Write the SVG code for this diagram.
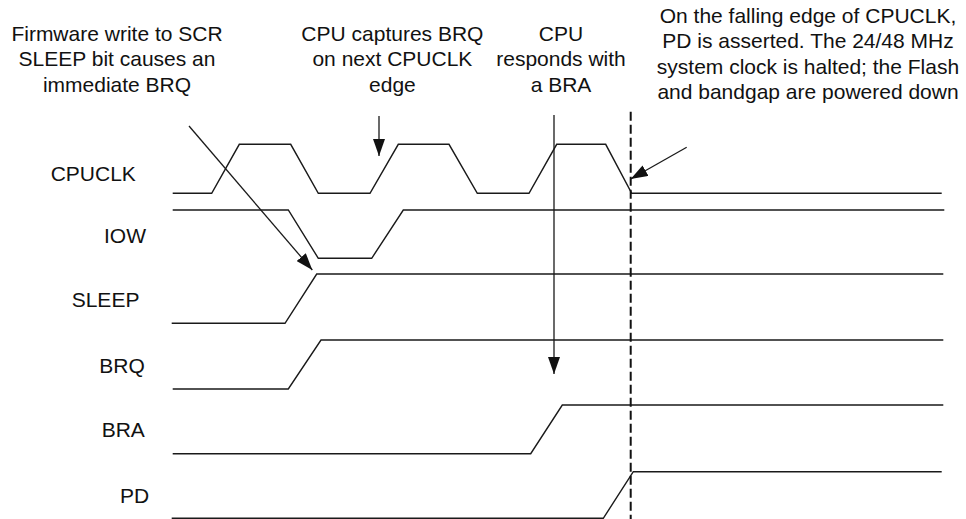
<svg xmlns="http://www.w3.org/2000/svg" width="966" height="519" viewBox="0 0 966 519">
<style>
text{font-family:"Liberation Sans",Arial,sans-serif;font-size:21px;fill:#111}
.ann{text-anchor:middle}
.sig{fill:none;stroke:#1a1a1a;stroke-width:1.4;stroke-linejoin:miter}
.con{fill:none;stroke:#1a1a1a;stroke-width:1.3}
.dash{fill:none;stroke:#111;stroke-width:2;stroke-dasharray:9 4}
</style>
<defs>
<marker id="ah" viewBox="0 0 17 12" refX="17" refY="6" markerWidth="17" markerHeight="12" markerUnits="userSpaceOnUse" orient="auto">
<path d="M0,0 L17,6 L0,12 z" fill="#111"/>
</marker>
</defs>
<rect width="966" height="519" fill="#fff"/>
<g id="annotations">
<g id="note-firmware">
<text class="ann" x="117" y="40.7">Firmware write to SCR</text>
<text class="ann" x="117" y="66.2">SLEEP bit causes an</text>
<text class="ann" x="117" y="91.7">immediate BRQ</text>
</g>
<g id="note-capture">
<text class="ann" x="392.4" y="40.7">CPU captures BRQ</text>
<text class="ann" x="392.4" y="66.2">on next CPUCLK</text>
<text class="ann" x="392.4" y="91.7">edge</text>
</g>
<g id="note-bra">
<text class="ann" x="561" y="40.7">CPU</text>
<text class="ann" x="561" y="66.2">responds with</text>
<text class="ann" x="561" y="91.7">a BRA</text>
</g>
<g id="note-pd">
<text class="ann" x="808" y="22.7">On the falling edge of CPUCLK,</text>
<text class="ann" x="808" y="48.2">PD is asserted. The 24/48 MHz</text>
<text class="ann" x="808" y="73.5">system clock is halted; the Flash</text>
<text class="ann" x="808" y="98.5">and bandgap are powered down</text>
</g>
</g>
<g id="signals">
<g id="sig-cpuclk">
<text x="50.7" y="180.7">CPUCLK</text>
<path class="sig" d="M172.7,193.3 H211.7 L239.3,144.3 H290.7 L318.3,193.3 H370 L398.3,144.3 H449 L477.3,193.3 H529 L556.7,144.3 H605.7 L631.7,193.3 H941.7"/>
</g>
<g id="sig-iow">
<text x="104" y="243.3">IOW</text>
<path class="sig" d="M172.7,210 H288.3 L318.3,258.3 H371.7 L403.3,210 H944.3"/>
</g>
<g id="sig-sleep">
<text x="71.7" y="307.3">SLEEP</text>
<path class="sig" d="M171.7,323.3 H285 L316.7,274 H943.3"/>
</g>
<g id="sig-brq">
<text x="99.3" y="372.7">BRQ</text>
<path class="sig" d="M172.7,389 H288.3 L321,340 H943.3"/>
</g>
<g id="sig-bra">
<text x="101.7" y="437.3">BRA</text>
<path class="sig" d="M172.7,453.7 H530.7 L562.3,405 H943.3"/>
</g>
<g id="sig-pd">
<text x="120" y="502.7">PD</text>
<path class="sig" d="M171.7,518.3 H603.3 L633.3,471.7 H941.7"/>
</g>
</g>
<g id="connectors">
<line class="dash" x1="630.7" y1="111.7" x2="630.7" y2="519"/>
<line class="con" x1="189" y1="126" x2="312.3" y2="270" marker-end="url(#ah)"/>
<line class="con" x1="379" y1="116" x2="379" y2="156" marker-end="url(#ah)"/>
<line class="con" x1="554" y1="115" x2="554" y2="374" marker-end="url(#ah)"/>
<line class="con" x1="686.7" y1="147.3" x2="630.7" y2="179" marker-end="url(#ah)"/>
</g>
</svg>
